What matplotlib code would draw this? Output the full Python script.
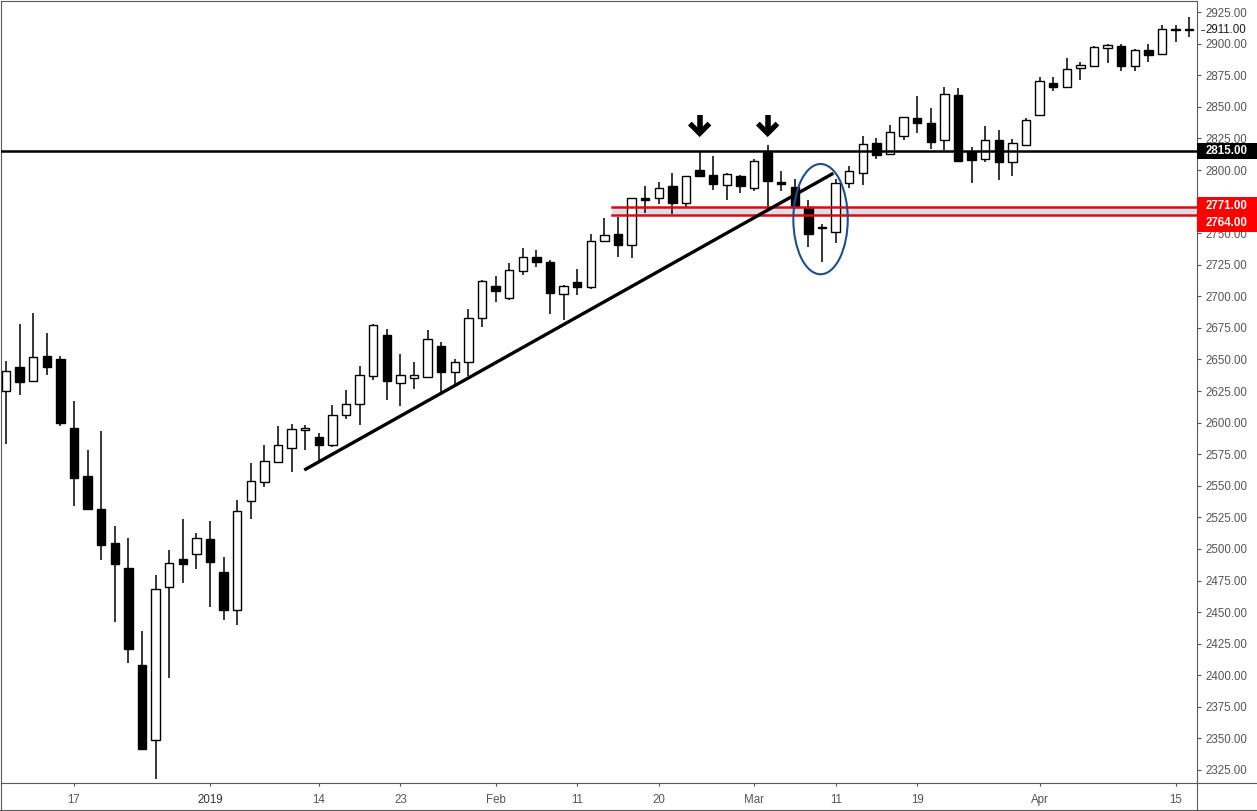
# -*- coding: utf-8 -*-

import numpy as np
import matplotlib
matplotlib.use('Agg')
import matplotlib.pyplot as plt
from matplotlib.patches import Ellipse, Rectangle
from matplotlib.lines import Line2D

plt.rcParams['font.family'] = ['Liberation Sans', 'DejaVu Sans']

# daily bars, Dec 10 2018 .. Apr 16 2019
dates = ['2018-12-10', '2018-12-11', '2018-12-12', '2018-12-13', '2018-12-14',
         '2018-12-17', '2018-12-18', '2018-12-19', '2018-12-20', '2018-12-21',
         '2018-12-24', '2018-12-26', '2018-12-27', '2018-12-28', '2018-12-31',
         '2019-01-02', '2019-01-03', '2019-01-04', '2019-01-07', '2019-01-08',
         '2019-01-09', '2019-01-10', '2019-01-11', '2019-01-14', '2019-01-15',
         '2019-01-16', '2019-01-17', '2019-01-18', '2019-01-22', '2019-01-23',
         '2019-01-24', '2019-01-25', '2019-01-28', '2019-01-29', '2019-01-30',
         '2019-01-31', '2019-02-01', '2019-02-04', '2019-02-05', '2019-02-06',
         '2019-02-07', '2019-02-08', '2019-02-11', '2019-02-12', '2019-02-13',
         '2019-02-14', '2019-02-15', '2019-02-19', '2019-02-20', '2019-02-21',
         '2019-02-22', '2019-02-25', '2019-02-26', '2019-02-27', '2019-02-28',
         '2019-03-01', '2019-03-04', '2019-03-05', '2019-03-06', '2019-03-07',
         '2019-03-08', '2019-03-11', '2019-03-12', '2019-03-13', '2019-03-14',
         '2019-03-15', '2019-03-18', '2019-03-19', '2019-03-20', '2019-03-21',
         '2019-03-22', '2019-03-25', '2019-03-26', '2019-03-27', '2019-03-28',
         '2019-03-29', '2019-04-01', '2019-04-02', '2019-04-03', '2019-04-04',
         '2019-04-05', '2019-04-08', '2019-04-09', '2019-04-10', '2019-04-11',
         '2019-04-12', '2019-04-15', '2019-04-16']

opens = [2625, 2644, 2633, 2653, 2650,
         2596, 2558, 2532, 2505, 2485,
         2408, 2349, 2470, 2492, 2496,
         2508, 2482, 2452, 2538, 2553,
         2569, 2580, 2594, 2589, 2582,
         2606, 2615, 2637, 2669, 2631,
         2635, 2636, 2661, 2640, 2648,
         2683, 2708, 2699, 2720, 2731,
         2727, 2702, 2711, 2707, 2744,
         2749, 2741, 2777.5, 2777.5, 2787,
         2774, 2800, 2796, 2788, 2795,
         2785.5, 2814.5, 2790.5, 2786.5, 2770.7,
         2755, 2750.7, 2790, 2797.4, 2821,
         2813, 2826.7, 2841, 2837, 2823.5,
         2859, 2814, 2808.5, 2823.5, 2806.6,
         2820, 2843.8, 2868.7, 2865.5, 2880.5,
         2882, 2896.4, 2898, 2882, 2894.8,
         2891.6, 2911.5, 2911]
highs = [2649, 2678, 2687, 2671, 2653,
         2617, 2578, 2593, 2518, 2509,
         2435, 2479, 2499, 2524, 2513,
         2522, 2494, 2539, 2568, 2582,
         2597, 2599, 2598, 2592, 2614,
         2626, 2645, 2678, 2674, 2654,
         2648, 2673, 2664, 2650, 2690,
         2713, 2716, 2726, 2738, 2737,
         2729, 2709, 2722, 2749, 2762,
         2763, 2778, 2787, 2790.5, 2798,
         2795.5, 2815, 2811, 2797.5, 2796,
         2808.5, 2820, 2799.5, 2793, 2776,
         2757, 2793, 2803, 2826.7, 2825,
         2836, 2842, 2858.6, 2849, 2865.5,
         2865, 2818, 2835, 2832, 2824.3,
         2841.4, 2873.6, 2873.6, 2889, 2885.5,
         2898, 2899.8, 2900, 2895.6, 2900,
         2915, 2915, 2921]
lows = [2583, 2622, 2632, 2638, 2597,
        2534, 2531, 2491, 2442, 2410,
        2342, 2318, 2398, 2473, 2484,
        2454, 2444, 2440, 2524, 2549,
        2569, 2561, 2578, 2569, 2581,
        2603, 2598, 2634, 2618, 2613,
        2627, 2635, 2624, 2630, 2637,
        2676, 2695.5, 2697, 2717, 2723,
        2686, 2681.5, 2701, 2706, 2743.5,
        2731, 2730, 2766, 2773, 2765,
        2771, 2795, 2784, 2776, 2782,
        2783.5, 2769, 2783.5, 2771, 2739,
        2727, 2742.5, 2786, 2788.4, 2809,
        2813, 2824, 2829.6, 2817, 2816,
        2806, 2790, 2806.6, 2792, 2795.5,
        2820, 2843.8, 2862.8, 2865.5, 2871.5,
        2882, 2884.5, 2878, 2878.6, 2885.8,
        2891.6, 2901, 2905]
closes = [2641, 2632, 2652, 2644, 2600,
          2556, 2532, 2503, 2488, 2421,
          2342, 2468, 2489, 2488, 2509,
          2490, 2452, 2530, 2554, 2570,
          2582, 2595, 2595.5, 2582, 2606,
          2615, 2638, 2677, 2633, 2638,
          2637.5, 2666, 2640, 2648, 2683,
          2712, 2704.5, 2721, 2731, 2727,
          2703, 2708, 2707.5, 2744, 2748.5,
          2741, 2777.5, 2776.3, 2786, 2774,
          2795, 2795, 2789, 2796.5, 2787,
          2807, 2791, 2788.7, 2771, 2749,
          2753.7, 2790, 2799, 2820.4, 2812,
          2830, 2841.7, 2837.5, 2822, 2860,
          2807, 2808, 2824, 2806.6, 2821.6,
          2839.6, 2870.2, 2866, 2879.7, 2883,
          2897, 2898.8, 2882, 2894.8, 2891.3,
          2911.4, 2910.8, 2911]

tick_dates = ['2018-12-17', '2019-01-02', '2019-01-14', '2019-01-23', '2019-02-01',
              '2019-02-11', '2019-02-20', '2019-03-01', '2019-03-11', '2019-03-19',
              '2019-04-01', '2019-04-15']
tick_labels = ['17', '2019', '14', '23', 'Feb', '11', '20', 'Mar', '11', '19', 'Apr', '15']

price_ticks = list(range(2325, 2926, 25))
hidden_ticks = [2775]  # covered by the red labels on the chart

resistance = 2815
zone_top = 2771
zone_bottom = 2764
last_price = 2911
arrow_dates = ['2019-02-25', '2019-03-04']

GRAY = '#555555'
FRAME = '#5a5a5a'

W, H = 1257, 811
fig = plt.figure(figsize=(W / 100, H / 100), dpi=100)
ax = fig.add_axes([1 / W, 1 - 783 / H, 1196 / W, 782 / H])

x = np.arange(len(dates))
o = np.array(opens, dtype=float)
c = np.array(closes, dtype=float)

# candles
ax.vlines(x, lows, highs, color='black', lw=1.1, zorder=3)
bottoms = np.minimum(o, c)
heights = np.maximum(np.abs(c - o), 0.6)
colors = ['white' if cc >= oo else 'black' for oo, cc in zip(o, c)]
ax.bar(x, heights, bottom=bottoms, width=0.62, color=colors,
       edgecolor='black', linewidth=1.0, zorder=4)

# support zone
zx0 = 44.56
ax.fill_between([zx0, 100], zone_bottom, zone_top, color='#dde1e7', zorder=1, lw=0)
ax.plot([zx0, 100], [zone_top, zone_top], color='#dd0a12', lw=1.8, zorder=5)
ax.plot([zx0, 100], [zone_bottom, zone_bottom], color='#dd0a12', lw=1.8, zorder=5)

# resistance
ax.axhline(resistance, color='black', lw=1.8, zorder=5)

# trend line
ax.plot([21.93, 60.83], [2562.5, 2797.4], color='black', lw=2.4,
        solid_capstyle='butt', zorder=6)

# ellipse around the reversal
ax.add_patch(Ellipse((59.89, 2761.1), 4.0, 87.3, fill=False,
                     edgecolor='#1f4e8c', lw=1.5, zorder=7))

# arrows above the two highs
for d in arrow_dates:
    xa = dates.index(d)
    ax.plot([xa, xa], [2843.5, 2830], color='black', lw=4.0,
            solid_capstyle='butt', zorder=6)
    ax.plot([xa - 0.72, xa, xa + 0.72], [2836.8, 2829.0, 2836.8], color='black',
            lw=3.8, solid_joinstyle='miter', solid_capstyle='butt', zorder=6)

ax.set_xlim(-0.37, 87.57)
ax.set_ylim(2314.7, 2933.8)

# axes styling
for s in ax.spines.values():
    s.set_color(FRAME)
    s.set_linewidth(0.8)
ax.yaxis.tick_right()
ax.set_yticks(price_ticks)
ax.set_yticklabels(['' if v in hidden_ticks else '{:.2f}'.format(v) for v in price_ticks])
ax.tick_params(axis='y', direction='out', length=3, width=0.8, color=GRAY,
               labelcolor=GRAY, labelsize=8.3, pad=3)
ax.set_xticks([dates.index(d) for d in tick_dates])
ax.set_xticklabels(tick_labels)
ax.tick_params(axis='x', direction='out', length=2.5, width=0.8, color=GRAY,
               labelcolor=GRAY, labelsize=8.3, pad=5.5)
for lab in ax.get_xticklabels():
    if lab.get_text() == '2019':
        lab.set_color('#333333')

# price labels on the axis
ytr = ax.get_yaxis_transform()
box_w = (W - 1197) / 1196


def price_box(price, face, lo, hi):
    # lo/hi: box extent in price units (labels get pushed apart like on the chart)
    ax.add_patch(Rectangle((1.0, lo), box_w, hi - lo, transform=ytr,
                           facecolor=face, edgecolor='none', clip_on=False, zorder=10))
    ax.text(1.0 + box_w / 2, (lo + hi) / 2, '{:.2f}'.format(price), transform=ytr,
            ha='center', va='center', color='white', fontsize=8.3, fontweight='bold',
            clip_on=False, zorder=11)


price_box(resistance, 'black', resistance - 6.6, resistance + 6.6)
price_box(zone_top, '#ff0000', 2764.6, 2778.4)
price_box(zone_bottom, '#ff0000', 2750.6, 2764.8)

ax.plot([1.003, 1.0062], [last_price, last_price], transform=ytr, color=GRAY,
        lw=0.8, clip_on=False, zorder=10)
ax.text(1.0072, last_price, '{:.2f}'.format(last_price), transform=ytr,
        ha='left', va='center', color='#1a1a1a', fontsize=8.3, clip_on=False, zorder=11)


# outer frame pieces below the chart
def fig_line(xs, ys):
    fig.add_artist(Line2D([v / W for v in xs], [1 - v / H for v in ys],
                          color=FRAME, lw=0.8))


fig_line([1197, W], [783, 783])
fig_line([0, W], [810, 810])
fig_line([1, 1], [783, 811])
fig_line([1197, 1197], [783, 811])

fig.savefig('out.png', dpi=100, facecolor='white')
